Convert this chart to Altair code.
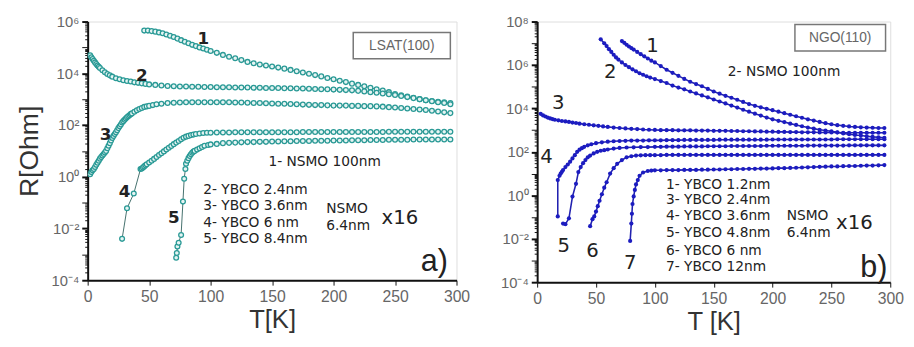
import altair as alt
import pandas as pd

# common temperature grid for the high-T part of each curve (K)
GRID = [100, 105, 110, 115, 120, 125, 130, 135, 140, 145,
        150, 155, 160, 165, 170, 175, 180, 185, 190, 195,
        200, 205, 210, 215, 220, 225, 230, 235, 240, 245,
        250, 255, 260, 265, 270, 275, 280, 285, 290, 295]

# ---------------- Panel a) LSAT(100)  (log10 R) ----------------
a1_T = [46, 49, 52, 55, 58, 61, 64, 67, 70, 73, 76, 79, 82, 85, 88, 91, 94, 97] + GRID
a1_logR = [5.65, 5.65, 5.63, 5.61, 5.58, 5.55, 5.5, 5.45, 5.4, 5.34, 5.28, 5.22, 5.16, 5.1, 5.05, 5.0, 4.96, 4.91,
           4.86, 4.79, 4.71, 4.64, 4.58, 4.51, 4.44, 4.39, 4.34, 4.3,
           4.26, 4.22, 4.18, 4.13, 4.08, 4.03, 3.98, 3.93, 3.88, 3.82,
           3.77, 3.71, 3.66, 3.6, 3.55, 3.5, 3.44, 3.38, 3.33, 3.27,
           3.2, 3.15, 3.1, 3.05, 3.0, 2.96, 2.93, 2.9, 2.88, 2.85]

a2_T = [2, 3, 4, 5, 6, 7, 8, 9, 10, 12, 14, 16, 18, 20, 23, 26, 29, 32, 35, 38, 41, 44, 47, 50,
        55, 60, 65, 70, 75, 80, 85, 90, 95] + GRID
a2_logR = [4.7, 4.62, 4.55, 4.48, 4.42, 4.36, 4.3, 4.25, 4.2, 4.12, 4.04, 3.97, 3.92, 3.87, 3.81,
           3.77, 3.73, 3.7, 3.68, 3.65, 3.63, 3.61, 3.59, 3.57, 3.55, 3.53, 3.51, 3.5, 3.49, 3.49,
           3.48, 3.48, 3.47,
           3.47, 3.46, 3.46, 3.46, 3.45, 3.45, 3.45, 3.44, 3.44, 3.43,
           3.43, 3.43, 3.42, 3.42, 3.41, 3.41, 3.4, 3.39, 3.38, 3.38,
           3.37, 3.36, 3.35, 3.34, 3.32, 3.3, 3.27, 3.25, 3.22, 3.19,
           3.16, 3.12, 3.08, 3.04, 3.0, 2.96, 2.92, 2.88, 2.85, 2.8]

a3_T = [2, 3, 4, 5, 6, 7, 8, 9, 10, 11, 12, 13, 14, 15, 16, 17, 18, 19, 20, 21, 22, 23, 24, 25,
        26, 27, 28, 29, 30, 31, 32, 33, 34, 35, 36, 38, 40, 42, 44, 46, 48, 50,
        53, 56, 60, 65, 70, 75, 80, 85, 90, 95] + GRID
a3_logR = [0.1, 0.18, 0.25, 0.3, 0.38, 0.46, 0.54, 0.62, 0.7, 0.76,
           0.82, 0.88, 0.94, 1.0, 1.1, 1.2, 1.3, 1.4, 1.5, 1.58,
           1.65, 1.72, 1.8, 1.88, 1.95, 2.02, 2.1, 2.15, 2.2, 2.25,
           2.3, 2.34, 2.38, 2.42, 2.45,
           2.51, 2.57, 2.62, 2.66, 2.7, 2.72, 2.74,
           2.77, 2.8, 2.82, 2.85, 2.86, 2.87, 2.88, 2.88, 2.88, 2.88,
           2.88, 2.88, 2.88, 2.88, 2.87, 2.87, 2.86, 2.85, 2.85, 2.84,
           2.83, 2.82, 2.82, 2.81, 2.8, 2.79, 2.78, 2.77, 2.77, 2.76,
           2.75, 2.75, 2.75, 2.74, 2.74, 2.73, 2.73, 2.72, 2.71, 2.69,
           2.68, 2.66, 2.64, 2.62, 2.6, 2.58, 2.55, 2.52, 2.49, 2.46]

a4_T = [28, 32, 37.5, 43, 44, 45, 46, 47, 48, 50, 52, 54, 56, 58, 60, 62, 64, 66, 68, 70, 72, 74,
        76, 78, 80, 82, 84, 86, 88, 91, 94, 97] + GRID
a4_logR = [-2.4, -1.22, -0.65, 0.3, 0.32, 0.36, 0.4, 0.44, 0.48,
           0.55, 0.62, 0.69, 0.76, 0.84, 0.91, 0.98, 1.05, 1.12, 1.19,
           1.26, 1.32, 1.38, 1.45, 1.51, 1.55, 1.58, 1.61, 1.63, 1.65,
           1.67, 1.69, 1.7,
           1.7, 1.71, 1.71, 1.71, 1.72, 1.72, 1.72, 1.72, 1.72, 1.72,
           1.72, 1.72, 1.72, 1.72, 1.72, 1.73, 1.73, 1.73, 1.73, 1.73,
           1.73, 1.73, 1.73, 1.73, 1.73, 1.73, 1.73, 1.73, 1.73, 1.74,
           1.74, 1.74, 1.74, 1.74, 1.74, 1.74, 1.74, 1.74, 1.74, 1.74]

a5_T = [72, 72.5, 73, 74, 76, 77.5, 78.5, 79.5, 80, 81, 82, 83, 84, 85, 86, 87, 89, 91, 93, 95, 98] + GRID
a5_logR = [-3.13, -2.95, -2.7, -2.55, -2.25, -0.96, -0.08, 0.3, 0.5, 0.62,
           0.72, 0.8, 0.87, 0.93, 0.97, 1.0, 1.05, 1.1, 1.15, 1.2, 1.23,
           1.25, 1.27, 1.3, 1.31, 1.32, 1.33, 1.34, 1.34, 1.35, 1.35,
           1.36, 1.36, 1.37, 1.37, 1.38, 1.38, 1.38, 1.39, 1.39, 1.39,
           1.4, 1.4, 1.4, 1.41, 1.41, 1.41, 1.42, 1.42, 1.42, 1.43,
           1.43, 1.43, 1.43, 1.44, 1.44, 1.44, 1.44, 1.44, 1.44, 1.44]

# ---------------- Panel b) NGO(110)  (log10 R) ----------------
b1_T = [72, 74, 76, 78, 80, 82, 85, 88, 91, 94, 97] + GRID
b1_logR = [7.1, 7.02, 6.93, 6.85, 6.78, 6.71, 6.6, 6.5, 6.4, 6.3, 6.2,
           6.12, 5.95, 5.78, 5.64, 5.5, 5.36, 5.23, 5.12, 5.02, 4.9,
           4.78, 4.68, 4.58, 4.49, 4.4, 4.3, 4.2, 4.12, 4.05, 3.98,
           3.92, 3.85, 3.78, 3.71, 3.64, 3.57, 3.5, 3.44, 3.38, 3.32,
           3.27, 3.23, 3.2, 3.17, 3.15, 3.13, 3.12, 3.11, 3.1, 3.1]

b2_T = [54, 57, 59, 61, 63, 65, 67, 69, 72, 75, 78, 81, 84, 87, 90, 93, 96] + GRID
b2_logR = [7.18, 7.0, 6.87, 6.73, 6.6, 6.47, 6.35, 6.25, 6.12, 6.0, 5.9, 5.8, 5.71, 5.62, 5.55, 5.48, 5.42,
           5.35, 5.26, 5.17, 5.05, 4.96, 4.88, 4.78, 4.69, 4.6, 4.51,
           4.41, 4.32, 4.23, 4.13, 4.04, 3.94, 3.85, 3.76, 3.67, 3.58,
           3.5, 3.43, 3.37, 3.3, 3.24, 3.18, 3.12, 3.07, 3.02, 2.98,
           2.95, 2.9, 2.85, 2.81, 2.78, 2.75, 2.72, 2.69, 2.67, 2.65]

b3_T = [3, 5, 7, 9, 11, 13, 15, 18, 21, 24, 27, 30, 33, 36, 40, 44, 48, 52, 56, 60, 65, 70, 75,
        80, 85, 90, 95] + GRID
b3_logR = [3.75, 3.68, 3.63, 3.58, 3.54, 3.51, 3.48, 3.45, 3.42, 3.4,
           3.38, 3.35, 3.33, 3.3, 3.27, 3.25, 3.22, 3.2, 3.17, 3.15,
           3.12, 3.1, 3.08, 3.06, 3.05, 3.03, 3.02,
           3.01, 3.0, 3.0, 3.0, 2.99, 2.99, 2.99, 2.98, 2.98, 2.98,
           2.97, 2.97, 2.97, 2.96, 2.96, 2.95, 2.95, 2.94, 2.94, 2.93,
           2.93, 2.92, 2.92, 2.91, 2.91, 2.9, 2.9, 2.9, 2.89, 2.89,
           2.89, 2.89, 2.88, 2.88, 2.88, 2.88, 2.88, 2.88, 2.88, 2.88]

b4_T = [17.5, 17.5, 19, 20, 21, 22, 24, 26, 28, 30, 32, 34, 36, 38, 40, 43, 46, 50, 55, 60, 65, 70,
        75, 80, 85, 90, 95] + GRID
b4_logR = [-0.97, 0.7, 0.9, 1.0, 1.08, 1.16, 1.3, 1.42, 1.55, 1.7,
           1.85, 2.0, 2.1, 2.17, 2.23, 2.3, 2.35, 2.4, 2.44, 2.47,
           2.49, 2.5, 2.51, 2.52, 2.52, 2.52, 2.53,
           2.53, 2.53, 2.54, 2.54, 2.54, 2.55, 2.55, 2.55, 2.55, 2.55,
           2.55, 2.56, 2.56, 2.56, 2.56, 2.56, 2.56, 2.56, 2.56, 2.56,
           2.57, 2.57, 2.57, 2.57, 2.57, 2.57, 2.57, 2.57, 2.57, 2.57,
           2.57, 2.58, 2.58, 2.58, 2.58, 2.58, 2.58, 2.58, 2.58, 2.58]

b5_T = [22, 24, 27, 30, 33, 35, 37, 39, 41, 43, 45, 48, 51, 54, 57, 60, 65, 70, 76, 82, 88, 94] + GRID
b5_logR = [-1.3, -1.33, -1.06, -0.06, 0.53, 1.07, 1.3, 1.48, 1.62, 1.75,
           1.83, 1.93, 2.0, 2.05, 2.08, 2.11, 2.15, 2.18, 2.2, 2.21, 2.22, 2.22,
           2.23, 2.23, 2.24, 2.24, 2.24, 2.25, 2.25, 2.25, 2.25, 2.26,
           2.26, 2.26, 2.26, 2.27, 2.27, 2.27, 2.27, 2.27, 2.27, 2.28,
           2.28, 2.28, 2.28, 2.28, 2.28, 2.28, 2.29, 2.29, 2.29, 2.29,
           2.29, 2.29, 2.29, 2.3, 2.3, 2.3, 2.3, 2.3, 2.3, 2.3]

b6_T = [45, 47, 48.5, 50, 51.5, 53, 55, 57, 59, 62, 65, 68, 72, 76, 80, 84, 88, 92, 96] + GRID
b6_logR = [-1.42, -1.1, -0.97, -0.75, -0.5, -0.25, 0.05, 0.35, 0.6, 1.0,
           1.25, 1.45, 1.62, 1.75, 1.8, 1.83, 1.84, 1.85, 1.85,
           1.85, 1.85, 1.86, 1.86, 1.86, 1.86, 1.86, 1.86, 1.86, 1.86,
           1.86, 1.86, 1.86, 1.86, 1.86, 1.86, 1.86, 1.86, 1.86, 1.86,
           1.86, 1.86, 1.86, 1.86, 1.86, 1.86, 1.86, 1.86, 1.86, 1.86,
           1.86, 1.86, 1.86, 1.86, 1.86, 1.86, 1.86, 1.86, 1.86, 1.86]

b7_T = [79, 80, 80.5, 81, 82, 83, 84, 85.5, 87, 90, 94, 97] + GRID
b7_logR = [-2.1, -1.3, -0.85, -0.4, -0.05, 0.25, 0.5, 0.7, 0.9, 1.05, 1.12, 1.14,
           1.15, 1.15, 1.16, 1.16, 1.16, 1.17, 1.17, 1.17, 1.18, 1.18,
           1.19, 1.19, 1.2, 1.2, 1.21, 1.21, 1.22, 1.22, 1.23, 1.23,
           1.24, 1.25, 1.25, 1.26, 1.27, 1.28, 1.29, 1.3, 1.31, 1.32,
           1.33, 1.33, 1.34, 1.35, 1.35, 1.36, 1.37, 1.37, 1.38, 1.39]

curve_names_a = ["1", "2", "3", "4", "5"]
curve_names_b = ["1", "2", "3", "4", "5", "6", "7"]

legend_a = ["2- YBCO 2.4nm", "3- YBCO 3.6nm", "4- YBCO 6  nm", "5- YBCO 8.4nm"]
legend_b = ["1- YBCO 1.2nm", "3- YBCO 2.4nm", "4- YBCO 3.6nm", "5- YBCO 4.8nm", "6- YBCO 6  nm", "7- YBCO 12nm"]


def build_df(names, Ts, Ls):
    rows = []
    for n, ts, ls in zip(names, Ts, Ls):
        assert len(ts) == len(ls), (n, len(ts), len(ls))
        for i, (t, l) in enumerate(zip(ts, ls)):
            rows.append({"curve": n, "T": t, "R": 10 ** l, "i": i})
    return pd.DataFrame(rows)


df_a = build_df(curve_names_a, [a1_T, a2_T, a3_T, a4_T, a5_T],
                [a1_logR, a2_logR, a3_logR, a4_logR, a5_logR])
df_b = build_df(curve_names_b, [b1_T, b2_T, b3_T, b4_T, b5_T, b6_T, b7_T],
                [b1_logR, b2_logR, b3_logR, b4_logR, b5_logR, b6_logR, b7_logR])

SUP = {-4: "⁻⁴", -2: "⁻²", 0: "⁰", 2: "²", 4: "⁴", 6: "⁶", 8: "⁸"}
LABEL_FONT = "Liberation Sans"
TEXT_FONT = "DejaVu Sans"


def y_axis(lo, hi, title):
    vals = []
    for e in range(lo, hi):
        for m in range(1, 10):
            vals.append(m * 10.0 ** e)
    vals.append(10.0 ** hi)
    expr = "''"
    for e in range(hi, lo - 1, -1):
        if e % 2 == 0:
            expr = f"abs(datum.value/{10.0 ** e!r} - 1) < 1e-6 ? '10{SUP[e]}' : ({expr})"
    is_dec = "abs(log(datum.value)/LN10 - round(log(datum.value)/LN10)) < 1e-6"
    is_even = is_dec + " && abs(round(log(datum.value)/LN10) % 2) < 0.5"
    kw = dict(values=vals, labelExpr=expr,
              tickSize={"condition": {"test": is_dec, "value": 6}, "value": 3},
              tickWidth={"condition": {"test": is_even, "value": 2}, "value": 1},
              tickColor="#111", domainColor="#111", domainWidth=2,
              labelColor="#666", labelFont=LABEL_FONT, labelFontSize=15,
              labelPadding=3, grid=False, labelOverlap=False, labelBound=False,
              labelFlush=False)
    if title:
        kw.update(title=title, titleFont=LABEL_FONT, titleFontSize=27,
                  titleFontWeight="normal", titleColor="#333", titlePadding=8)
    else:
        kw.update(title=None)
    return alt.Axis(**kw)


def x_axis(title):
    return alt.Axis(values=list(range(0, 301, 25)),
                    labelExpr="datum.value % 50 == 0 ? datum.label : ''",
                    tickSize={"condition": {"test": "datum.value % 50 == 0", "value": 5}, "value": 3},
                    tickColor="#111", domainColor="#111", domainWidth=2,
                    labelColor="#666", labelFont=LABEL_FONT, labelFontSize=16,
                    labelPadding=4, grid=False, labelOverlap=False, labelFlush=False,
                    title=title, titleFont=LABEL_FONT, titleFontSize=26,
                    titleFontWeight="normal", titleColor="#333", titlePadding=2)


def text_layer(rows, size, weight="normal", align="left", color="#222", font=TEXT_FONT):
    d = pd.DataFrame(rows, columns=["T", "R", "txt"])
    return alt.Chart(d).mark_text(align=align, baseline="middle", fontSize=size,
                                  fontWeight=weight, font=font, color=color).encode(
        x="T:Q", y="R:Q", text="txt:N")


def panel(df, lo, hi, w, h, ytitle, xtitle, color, linecolor, linewidth, filled, size,
          texts, box, boxtext, letter):
    xs = alt.Scale(domain=[0, 300], nice=False, zero=False)
    ys = alt.Scale(type="log", domain=[10.0 ** lo, 10.0 ** hi], nice=False)
    x = alt.X("T:Q", scale=xs, axis=x_axis(xtitle))
    y = alt.Y("R:Q", scale=ys, axis=y_axis(lo, hi, ytitle))
    base = alt.Chart(df)
    line = base.mark_line(color=linecolor, strokeWidth=linewidth, clip=True).encode(
        x=x, y=y, detail="curve:N", order="i:Q")
    if filled:
        pts = base.mark_point(shape="circle", filled=True, color=color, size=size,
                              opacity=1, clip=True).encode(x=x, y=y)
    else:
        pts = base.mark_point(shape="circle", filled=False, color=color, size=size,
                              strokeWidth=1.3, opacity=1, fill="#e6f4f3",
                              clip=True).encode(x=x, y=y)
    bx = pd.DataFrame([box], columns=["T", "T2", "R", "R2"])
    rect = alt.Chart(bx).mark_rect(fill="white", stroke="#777", strokeWidth=1.5).encode(
        x="T:Q", x2="T2", y="R:Q", y2="R2")
    layers = [line, pts, rect, text_layer([boxtext], 14, color="#666", align="center",
                                          font=LABEL_FONT)]
    layers += texts
    layers.append(text_layer([letter], 31, align="center", font=LABEL_FONT, color="#222"))
    return alt.layer(*layers).properties(width=w, height=h)


# annotation placement (data coordinates)
texts_a = [
    text_layer([(94, 10 ** 5.32, "1"), (44, 10 ** 3.91, "2"), (14.5, 10 ** 1.63, "3"),
                (30, 10 ** -0.58, "4"), (70, 10 ** -1.6, "5")], 17, weight="bold",
               align="center"),
    text_layer([(147, 10 ** 0.56, "1- NSMO 100nm")], 14),
    text_layer([(94, 10 ** v, t) for v, t in zip([-0.5, -1.15, -1.8, -2.4], legend_a)], 14),
    text_layer([(194, 10 ** -1.26, "NSMO"), (194, 10 ** -1.9, "6.4nm")], 14),
    text_layer([(239, 10 ** -1.6, "x16")], 20),
]
texts_b = [
    text_layer([(98, 10 ** 6.87, "1"), (62, 10 ** 5.69, "2"), (18, 10 ** 4.24, "3"),
                (8, 10 ** 1.75, "4"), (22.5, 10 ** -2.33, "5"), (47, 10 ** -2.55, "6"),
                (79, 10 ** -3.1, "7")], 20, align="center"),
    text_layer([(162, 10 ** 5.69, "2- NSMO 100nm")], 14),
    text_layer([(109.5, 10 ** v, t) for v, t in
                zip([0.48, -0.24, -0.97, -1.74, -2.55, -3.32], legend_b)], 14),
    text_layer([(212, 10 ** -0.97, "NSMO"), (212, 10 ** -1.74, "6.4nm")], 14),
    text_layer([(254, 10 ** -1.28, "x16")], 20),
]

left = panel(df_a, -4, 6, 375, 263, "R[Ohm]", "T[K]", "#2a9a96", "#2f5f5c", 0.9, False, 24,
             texts_a, (216, 295, 10 ** 5.58, 10 ** 4.56), (255.5, 10 ** 5.07, "LSAT(100)"),
             (282, 10 ** -3.3, "a)"))
right = panel(df_b, -4, 8, 359, 265, None, "T [K]", "#1c1cc0", "#2222b0", 1.6, True, 18,
              texts_b, (219, 296, 10 ** 7.86, 10 ** 6.64), (257.5, 10 ** 7.25, "NGO(110)"),
              (286, 10 ** -3.37, "b)"))

chart = alt.hconcat(left, right, spacing=30).properties(
    padding={"left": 7, "top": 3, "right": 2, "bottom": 2}
).configure_view(stroke="#888", strokeWidth=1.5).configure(background="white")

chart.save("out.html", embed_options={"renderer": "svg", "actions": False})
